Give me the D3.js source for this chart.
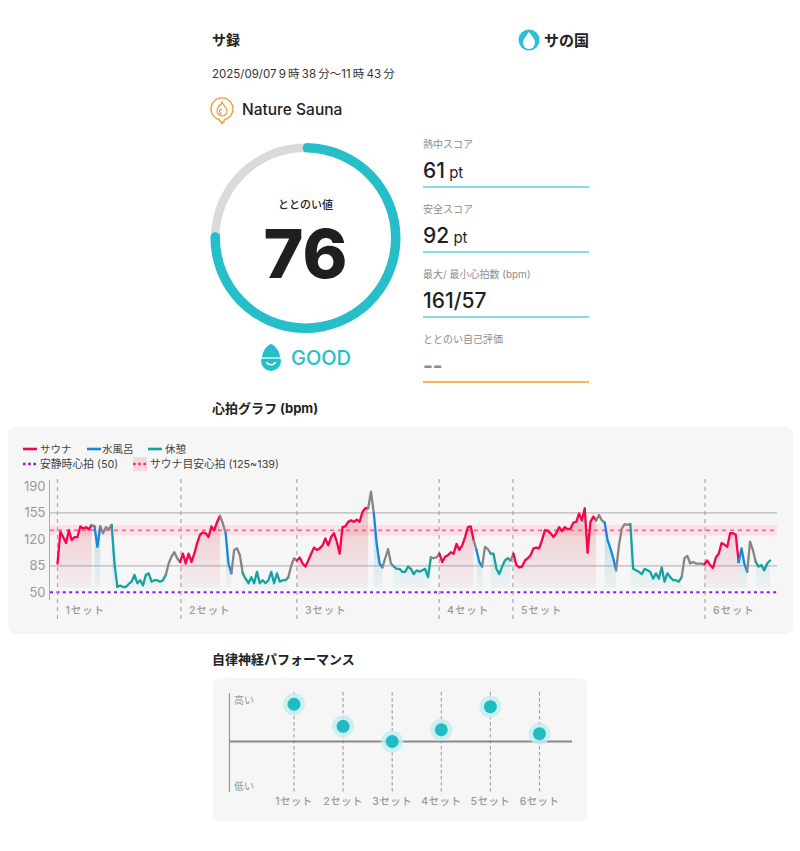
<!DOCTYPE html>
<html>
<head>
<meta charset="utf-8">
<script src="https://cdn.jsdelivr.net/npm/d3@7"></script>
<style>
	body { margin: 0; background: #fff; }
	text { font-family: Inter, "Noto Sans CJK JP", sans-serif; }
</style>
</head>
<body>
<script>
// heart rate, one reading every half minute from 9:38
var bpm = [88,130,123,115,132,119,123,123,137,134,136,133,139,137,110,137,128,136,133,139,
	88,57,59,57,57,61,64,73,62,66,59,73,75,64,66,66,64,66,73,88,
	97,103,95,90,101,88,101,90,101,115,126,129,128,123,137,132,143,151,141,128,
	88,75,106,108,99,75,68,62,70,62,77,62,66,62,66,77,62,75,64,66,
	66,70,85,95,92,96,88,84,92,101,109,106,108,112,121,112,123,128,117,101,
	136,137,143,145,143,146,143,156,161,161,183,154,114,88,83,95,107,88,84,81,
	81,77,77,84,81,74,79,77,79,81,70,96,95,96,101,90,97,99,103,101,
	114,106,112,123,136,137,119,106,90,84,110,107,101,101,81,74,84,92,95,92,
	101,86,83,84,92,95,99,108,109,108,119,132,131,128,123,128,136,131,136,133,
	134,142,143,154,145,161,102,143,150,145,152,145,142,119,108,95,79,112,134,140,
	139,140,81,79,77,74,81,79,77,68,75,68,83,64,75,70,66,66,64,70,
	95,98,88,90,88,88,88,87,92,86,82,96,101,115,113,110,128,128,126,90,
	108,88,77,117,106,90,84,86,79,88,92]

var phaseStart = [0,12,13,15,19,38,43,57,59,61,65,81,84,109,111,114,118,131,134,146,147,149,152,159,160,189,192,196,201,219,227,239,242,245]
var phaseKind = ["sauna","gap","water","gap","rest","gap","sauna","gap","water","gap","rest","gap","sauna","gap","water","gap","rest","gap","sauna","gap","water","gap","rest","gap","sauna","gap","water","gap","rest","gap","sauna","water","gap","rest"]

var setStart = [0,43.3,84,133.9,159.8,227.2]
var setNames = ["1セット","2セット","3セット","4セット","5セット","6セット"]
var hrTicks = [50,85,120,155,190]

var autonomicValues = [0.76,0.31,0,0.24,0.71,0.16]

var scoreItems = [
	{label: "熱中スコア", big: "61", unit: " pt"},
	{label: "安全スコア", big: "92", unit: " pt"},
	{label: "最大/ 最小心拍数 (bpm)", big: "161/57", unit: ""},
	{label: "ととのい自己評価", big: "--", unit: ""}
]
var gaugeValue = 76

var teal = "#25bfc8"
var colors = {sauna: "#f5054f", water: "#1488e0", rest: "#14a3a0", gap: "#858585"}

var canvas = d3.select("body").append("svg")
	.attr("width", 800)
	.attr("height", 851)

var defs = canvas.append("defs")

function addGradient(id, color, top) {
	var g = defs.append("linearGradient")
		.attr("id", id)
		.attr("gradientUnits", "userSpaceOnUse")
		.attr("x1", 0).attr("x2", 0)
		.attr("y1", 500).attr("y2", 588)
	g.append("stop").attr("offset", 0).attr("stop-color", color).attr("stop-opacity", top)
	g.append("stop").attr("offset", 1).attr("stop-color", color).attr("stop-opacity", 0.05)
}
addGradient("fill-sauna", "#d8505f", 0.32)
addGradient("fill-water", "#3f9fc4", 0.4)
addGradient("fill-rest", "#3fb0c0", 0.32)

function label(x, y, str, size, color, weight, anchor) {
	return canvas.append("text")
		.attr("x", x)
		.attr("y", y)
		.attr("font-size", size)
		.attr("fill", color)
		.attr("font-weight", weight || 400)
		.attr("text-anchor", anchor || "start")
		.text(str)
}

// header
label(212, 45, "サ録", 14, "#222", 700)
label(212, 78, "2025/09/07 9 時 38 分〜11 時 43 分", 11.5, "#333").attr("word-spacing", -1)
label(242, 115, "Nature Sauna", 15.5, "#222", 500)

// logo
canvas.append("circle").attr("cx", 529).attr("cy", 40).attr("r", 10.5).attr("fill", "#2cc0d8")
canvas.append("path")
	.attr("d", "M529 32 C533 37 535 40 535 43 A6 6 0 0 1 523 43 C523 40 525 37 529 32 Z")
	.attr("fill", "#fff")
label(544, 46, "サの国", 15, "#222", 700)

// venue pin
var pin = canvas.append("g").attr("transform", "translate(222,108)")
pin.append("path")
	.attr("d", "M-3 11.5 A11 11 0 1 1 3 11.5 L0 15.5 Z")
	.attr("fill", "#fff")
	.attr("stroke", "#ee9a3a")
	.attr("stroke-width", 1.4)
pin.append("path")
	.attr("d", "M0 -6 C1 -3 5 -1 5 3 A5 5 0 0 1 -5 3 C-5 0 -3 -1 -2.5 -3 C-1.5 -2 -1 -3 0 -6 Z M0 1 A2.2 2.2 0 0 0 0 6")
	.attr("fill", "none")
	.attr("stroke", "#ee9a3a")
	.attr("stroke-width", 1.2)

// gauge
var gauge = canvas.append("g").attr("transform", "translate(305.5,238)")
var gaugeArc = d3.arc().innerRadius(86).outerRadius(94.5)
var gaugeScale = d3.scaleLinear().domain([0, 100]).range([0, 2 * Math.PI])
gauge.append("path")
	.attr("d", gaugeArc({startAngle: 0, endAngle: 2 * Math.PI}))
	.attr("fill", "#dadada")
var valueArc = d3.arc().innerRadius(85.5).outerRadius(95).cornerRadius(4.5)
gauge.append("path")
	.attr("d", valueArc({startAngle: -0.03, endAngle: gaugeScale(gaugeValue)}))
	.attr("fill", "#26bfc9")
label(305.5, 209, "ととのい値", 11, "#222", 500, "middle")
label(305.5, 278, gaugeValue, 68, "#1f1f1f", 800, "middle")

// GOOD badge
var badge = canvas.append("g").attr("transform", "translate(271,358)")
badge.append("path").attr("d", "M-9 -1 C-8 -9 -3 -13 0 -14 C3 -13 8 -9 9 -1 Z").attr("fill", teal)
badge.append("circle").attr("cx", 0).attr("cy", 3).attr("r", 10).attr("fill", teal)
badge.append("path").attr("d", "M-10 0 L10 0").attr("stroke", "#fff").attr("stroke-width", 1.2)
badge.append("path").attr("d", "M-4.5 4 A5 5 0 0 0 4.5 4").attr("fill", "none").attr("stroke", "#fff").attr("stroke-width", 1.4)
label(291, 365, "GOOD", 20, teal, 500)

// score column
var ruleColors = ["#5cd3da","#5cd3da","#5cd3da","#f6b659"]
scoreItems.forEach(function(d, i) {
	var top = 65 * i
	if(i == 3) {
		top = 195
	}
	label(423, 148 + top, d.label, 10, "#8d8d8d")
	var t = label(423, 178 + top, d.big, 21, i == 3 ? "#8a8a8a" : "#1f1f1f", i == 3 ? 700 : 500)
	t.append("tspan").attr("font-size", 15).attr("font-weight", 400).text(d.unit)
	canvas.append("line")
		.attr("x1", 423).attr("x2", 589)
		.attr("y1", 187 + top).attr("y2", 187 + top)
		.attr("stroke", ruleColors[i])
		.attr("stroke-width", i == 3 ? 2 : 1.4)
})

// heart rate panel
label(212, 413, "心拍グラフ (bpm)", 13, "#222", 700)
canvas.append("rect")
	.attr("x", 8).attr("y", 427)
	.attr("width", 785).attr("height", 207)
	.attr("rx", 8)
	.attr("fill", "#f6f6f6")

var x = d3.scaleLinear().domain([0, 250]).range([57.5, 770])
var y = d3.scaleLinear().domain([50, 190]).range([592.3, 486.3])

var yAxis = d3.axisLeft(y).tickValues(hrTicks).tickSize(0).tickPadding(4)
var yAxisG = canvas.append("g")
	.attr("transform", "translate(49.5,0)")
	.call(yAxis)
yAxisG.select(".domain").remove()
yAxisG.selectAll("text")
	.attr("font-size", 13)
	.attr("fill", "#999")
	.attr("font-family", "Inter, sans-serif")
canvas.append("line")
	.attr("x1", 49.5).attr("x2", 49.5)
	.attr("y1", 480).attr("y2", 600)
	.attr("stroke", "#aaa")

// target band
canvas.append("rect")
	.attr("x", 50).attr("width", 727)
	.attr("y", y(139)).attr("height", y(125) - y(139))
	.attr("fill", "#fae1e7")

// grid lines
;[85, 155].forEach(function(v) {
	canvas.append("line")
		.attr("x1", 50).attr("x2", 777)
		.attr("y1", y(v)).attr("y2", y(v))
		.attr("stroke", "#b9b9b9")
		.attr("stroke-width", 1.2)
})

// area under each phase
function phaseIndexes(p) {
	var end = p + 1 < phaseStart.length ? phaseStart[p + 1] : bpm.length - 1
	return d3.range(phaseStart[p], end + 1)
}
var area = d3.area()
	.x(function(i) { return x(i) })
	.y0(588)
	.y1(function(i) { return Math.min(y(bpm[i]), 588) })
var hrLine = d3.line()
	.x(function(i) { return x(i) })
	.y(function(i) { return y(bpm[i]) })

canvas.selectAll("path.phase-area")
	.data(d3.range(phaseStart.length).filter(function(p) { return phaseKind[p] != "gap" }))
	.enter()
	.append("path")
	.attr("class", "phase-area")
	.attr("d", function(p) { return area(phaseIndexes(p)) })
	.attr("fill", function(p) { return "url(#fill-" + phaseKind[p] + ")" })

// reference dashes sit over the area
canvas.append("line")
	.attr("x1", 50).attr("x2", 777)
	.attr("y1", y(132)).attr("y2", y(132))
	.attr("stroke", "#f7608c")
	.attr("stroke-width", 1.6)
	.attr("stroke-dasharray", "4 4")
canvas.append("line")
	.attr("x1", 50).attr("x2", 777)
	.attr("y1", y(50)).attr("y2", y(50))
	.attr("stroke", "#8f17f2")
	.attr("stroke-width", 2)
	.attr("stroke-dasharray", "3 3.4")

// set markers
canvas.selectAll("line.set")
	.data(setStart)
	.enter()
	.append("line")
	.attr("class", "set")
	.attr("x1", function(d) { return x(d) })
	.attr("x2", function(d) { return x(d) })
	.attr("y1", 479).attr("y2", 620)
	.attr("stroke", "#a8a8a8")
	.attr("stroke-width", 1.2)
	.attr("stroke-dasharray", "4 4")

setStart.forEach(function(d, i) {
	label(x(d) + 8, 614, setNames[i], 10.5, "#999", 500).attr("letter-spacing", 0.9)
})

canvas.selectAll("path.phase-line")
	.data(d3.range(phaseStart.length))
	.enter()
	.append("path")
	.attr("class", "phase-line")
	.attr("d", function(p) { return hrLine(phaseIndexes(p)) })
	.attr("fill", "none")
	.attr("stroke", function(p) { return colors[phaseKind[p]] })
	.attr("stroke-width", 2.3)
	.attr("stroke-linejoin", "round")
	.attr("stroke-linecap", "round")

// legend
function legendLine(x1, yy, color, dash) {
	canvas.append("line")
		.attr("x1", x1).attr("x2", x1 + 14)
		.attr("y1", yy).attr("y2", yy)
		.attr("stroke", color)
		.attr("stroke-width", 2.6)
		.attr("stroke-dasharray", dash)
}
legendLine(23, 449, colors.sauna, null)
label(40, 453, "サウナ", 10.5, "#444")
legendLine(87, 449, colors.water, null)
label(102, 453, "水風呂", 10.5, "#444")
legendLine(148, 449, colors.rest, null)
label(165, 453, "休憩", 10.5, "#444")
legendLine(23, 464, "#8f17f2", "2.6 2.6")
label(40, 468, "安静時心拍 (50)", 10.8, "#444")
canvas.append("rect")
	.attr("x", 133).attr("y", 457)
	.attr("width", 14).attr("height", 14)
	.attr("fill", "#f9d5de")
legendLine(133, 464, "#f7306c", "2.6 2.6")
label(150, 468, "サウナ目安心拍 (125~139)", 10.8, "#444")

// autonomic panel
label(212, 664, "自律神経パフォーマンス", 13, "#222", 700)
canvas.append("rect")
	.attr("x", 213).attr("y", 678)
	.attr("width", 374).attr("height", 143)
	.attr("rx", 7)
	.attr("fill", "#f6f6f6")

var setX = d3.scalePoint().domain(setNames).range([294, 539.5])
var perfY = d3.scaleLinear().domain([-1, 1]).range([790.5, 692.5])

canvas.selectAll("line.perf")
	.data(setNames)
	.enter()
	.append("line")
	.attr("class", "perf")
	.attr("x1", function(d) { return setX(d) })
	.attr("x2", function(d) { return setX(d) })
	.attr("y1", 692).attr("y2", 792)
	.attr("stroke", "#a0a0a0")
	.attr("stroke-width", 1.1)
	.attr("stroke-dasharray", "3.5 2.5")

canvas.append("line")
	.attr("x1", 229.5).attr("x2", 229.5)
	.attr("y1", 693).attr("y2", 792)
	.attr("stroke", "#999")
	.attr("stroke-width", 1.2)
canvas.append("line")
	.attr("x1", 229).attr("x2", 572)
	.attr("y1", perfY(0)).attr("y2", perfY(0))
	.attr("stroke", "#8a8a8a")
	.attr("stroke-width", 1.8)

canvas.selectAll("circle.halo")
	.data(autonomicValues)
	.enter()
	.append("circle")
	.attr("class", "halo")
	.attr("cx", function(d, i) { return setX(setNames[i]) })
	.attr("cy", function(d) { return perfY(d) })
	.attr("r", 11)
	.attr("fill", "#c4eef0")
	.attr("fill-opacity", 0.8)
canvas.selectAll("circle.dot")
	.data(autonomicValues)
	.enter()
	.append("circle")
	.attr("class", "dot")
	.attr("cx", function(d, i) { return setX(setNames[i]) })
	.attr("cy", function(d) { return perfY(d) })
	.attr("r", 6.5)
	.attr("fill", "#1fbcc4")

label(234, 704, "高い", 10, "#999")
label(234, 790, "低い", 10, "#999")
setNames.forEach(function(d) {
	label(setX(d), 805, d, 10.5, "#999", 500, "middle").attr("letter-spacing", 0.4)
})
</script>
</body>
</html>
